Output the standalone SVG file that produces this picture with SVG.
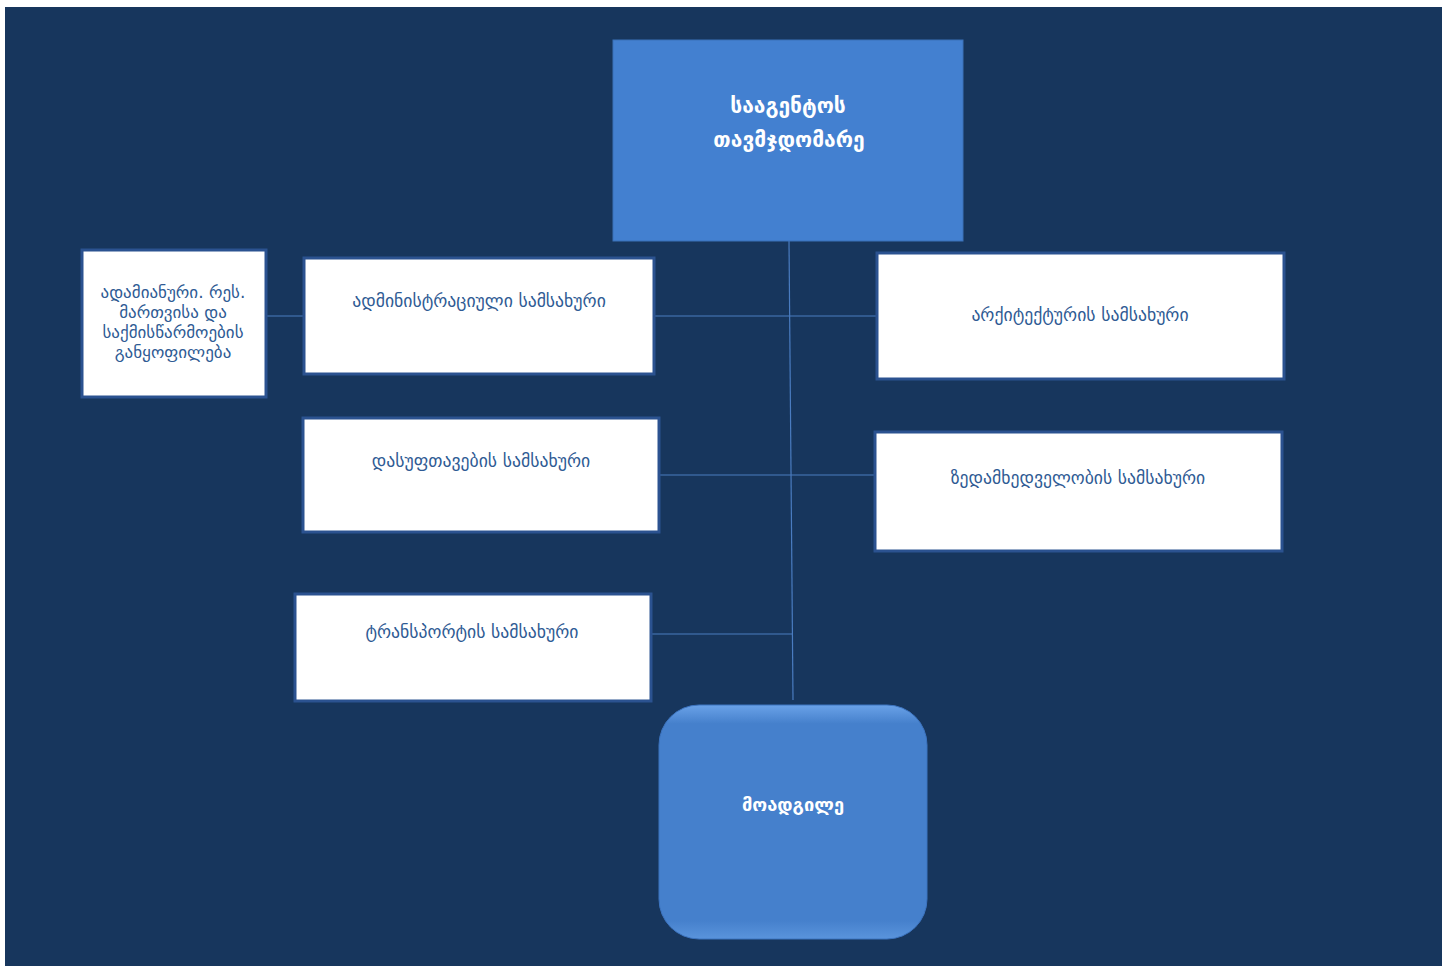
<svg xmlns="http://www.w3.org/2000/svg" width="1450" height="966" viewBox="0 0 1450 966">
<style>
.box{fill:#ffffff;stroke:#2b5290;stroke-width:3}
.lbl{font-family:"DejaVu Sans",sans-serif;font-size:17.7px;fill:#2f5b94;text-anchor:middle}
.sm{font-size:17px}
.wl{font-family:"DejaVu Sans",sans-serif;font-size:21px;font-weight:bold;fill:#ffffff;text-anchor:middle}
.conn{stroke:#4a7cc0;stroke-width:1.2;fill:none}
</style>
<defs>
<linearGradient id="bevV" x1="0" y1="0" x2="0" y2="1">
<stop offset="0" stop-color="#6aa2e8"/>
<stop offset="0.08" stop-color="#4580cc"/>
<stop offset="0.92" stop-color="#4580cc"/>
<stop offset="1" stop-color="#5a94dc"/>
</linearGradient>
</defs>
<rect x="0" y="0" width="1450" height="966" fill="#ffffff"/>
<rect x="5" y="7" width="1437" height="959" fill="#17365d"/>
<g id="connectors">
<line class="conn" x1="789" y1="241" x2="793" y2="700"/>
<line class="conn" x1="266" y1="316" x2="304" y2="316"/>
<line class="conn" x1="654" y1="316" x2="877" y2="316"/>
<line class="conn" x1="659" y1="475" x2="875" y2="475"/>
<line class="conn" x1="651" y1="634" x2="792" y2="634"/>
</g>
<g id="head">
<rect x="613" y="40" width="350" height="201" fill="#4380d0" stroke="#3a70b8" stroke-width="1"/>
<text class="wl" x="788" y="113">სააგენტოს</text>
<text class="wl" x="789" y="147">თავმჯდომარე</text>
</g>
<g id="hr">
<rect class="box" x="82" y="250" width="184" height="147"/>
<text class="lbl sm" x="173" y="298">ადამიანური. რეს.</text>
<text class="lbl sm" x="173" y="318">მართვისა და</text>
<text class="lbl sm" x="173" y="338">საქმისწარმოების</text>
<text class="lbl sm" x="173" y="358">განყოფილება</text>
</g>
<g id="admin">
<rect class="box" x="304" y="258" width="350" height="116"/>
<text class="lbl" x="479" y="307">ადმინისტრაციული სამსახური</text>
</g>
<g id="arch">
<rect class="box" x="877" y="253" width="407" height="126"/>
<text class="lbl" x="1080" y="321">არქიტექტურის სამსახური</text>
</g>
<g id="cleaning">
<rect class="box" x="303" y="418" width="356" height="114"/>
<text class="lbl" x="481" y="467">დასუფთავების სამსახური</text>
</g>
<g id="supervision">
<rect class="box" x="875" y="432" width="407" height="119"/>
<text class="lbl" x="1078" y="484">ზედამხედველობის სამსახური</text>
</g>
<g id="transport">
<rect class="box" x="295" y="594" width="356" height="107"/>
<text class="lbl" x="472" y="638">ტრანსპორტის სამსახური</text>
</g>
<g id="deputy">
<rect x="659" y="705" width="268" height="234" rx="40" ry="40" fill="url(#bevV)" stroke="#3c74c0" stroke-width="1"/>
<text class="wl" x="793" y="811" style="font-size:18.3px">მოადგილე</text>
</g>
</svg>
